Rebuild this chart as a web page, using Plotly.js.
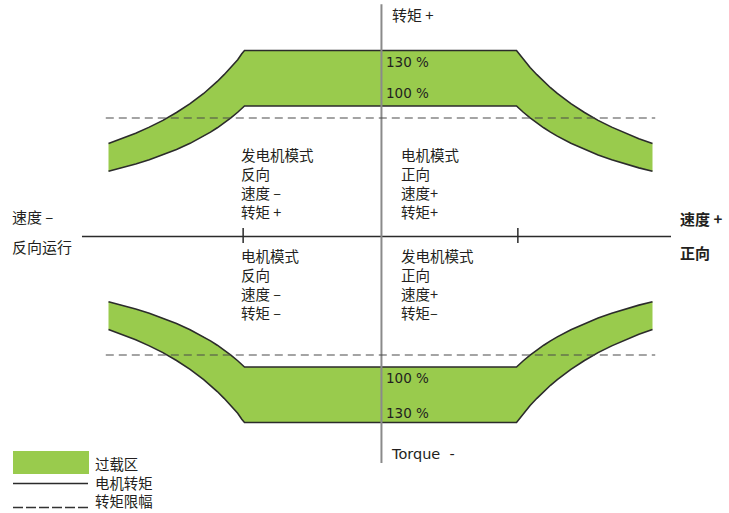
<!DOCTYPE html>
<html>
<head>
<meta charset="utf-8">
<script src="https://cdn.plot.ly/plotly-3.0.1.min.js"></script>
<style>html,body{margin:0;padding:0;background:#fff;}#chart{width:729px;height:513px;}</style>
</head>
<body>
<div id="chart"></div>
<script>
// ---- data (speed in p.u. of base speed, torque in arbitrary % units) ----
const speedMag   = [1.0, 1.02, 1.05, 1.1, 1.15, 1.2, 1.25, 1.3, 1.4, 1.5, 1.6, 1.7, 1.8, 1.9, 2.0];
const torqueOver = [142.5, 140, 135.5, 129.5, 124, 118.8, 114, 109.6, 101.8, 95, 89, 83.8, 79.2, 75, 71.3];   // outer (130 %) edge
const torqueRated= [100, 98, 95.2, 90.9, 87, 83.3, 80, 76.9, 71.4, 66.7, 62.5, 58.8, 55.6, 52.6, 50];        // inner (100 %) edge
const torqueLimit = 90.8;       // dashed torque limit
const speedLimitEnd = 2.02;     // dashed line extent
const baseSpeed = 1.01;         // tick positions
const quadLabels = {
  q2: ["发电机模式", "反向", "速度 –", "转矩 +"],
  q1: ["电机模式", "正向", "速度+", "转矩+"],
  q3: ["电机模式", "反向", "速度 –", "转矩 –"],
  q4: ["发电机模式", "正向", "速度+", "转矩–"]
};
const pctLabels = ["130 %", "100 %"];
const legendLabels = ["过载区", "电机转矩", "转矩限幅"];

// ---- build boundary curves ----
function edge(mags, tq, sgnT) {
  const xs = [], ys = [];
  for (let i = mags.length - 1; i >= 0; i--) { xs.push(-mags[i]); ys.push(sgnT * tq[i]); }
  for (let i = 0; i < mags.length; i++) { xs.push(mags[i]); ys.push(sgnT * tq[i]); }
  return {x: xs, y: ys};
}
const GREEN = '#99cb4d';
const DARK = '#2b2b2b';
const traces = [];
[1, -1].forEach(sg => {
  const outer = edge(speedMag, torqueOver, sg);
  const inner = edge(speedMag, torqueRated, sg);
  traces.push({
    x: outer.x.concat(inner.x.slice().reverse()),
    y: outer.y.concat(inner.y.slice().reverse()),
    mode: 'lines', fill: 'toself', fillcolor: GREEN,
    line: {width: 0, color: GREEN}, hoverinfo: 'skip', showlegend: false
  });
  [outer, inner].forEach(e => traces.push({
    x: e.x, y: e.y, mode: 'lines', line: {color: DARK, width: 1.6},
    hoverinfo: 'skip', showlegend: false
  }));
});

// ---- pixel helpers for layout-only positions ----
const W = 729, H = 513;
const px = v => v / W;
const py = v => 1 - v / H;

const shapes = [
  {type: 'line', xref: 'x', yref: 'y', x0: -2.195, x1: 2.136, y0: 0, y1: 0, line: {color: DARK, width: 1.5}},
  {type: 'line', xref: 'x', yref: 'y', x0: 0.007, x1: 0.007, y0: -173.6, y1: 178, line: {color: '#8a8a8a', width: 2}},
  {type: 'line', xref: 'x', yref: 'y', x0: -baseSpeed, x1: -baseSpeed, y0: -5, y1: 6.5, line: {color: DARK, width: 1.5}},
  {type: 'line', xref: 'x', yref: 'y', x0: baseSpeed, x1: baseSpeed, y0: -5, y1: 6.5, line: {color: DARK, width: 1.5}},
  {type: 'line', xref: 'x', yref: 'y', x0: -speedLimitEnd, x1: speedLimitEnd, y0: torqueLimit, y1: torqueLimit, line: {color: '#4a4a4a', width: 1.2, dash: '8px,5px'}},
  {type: 'line', xref: 'x', yref: 'y', x0: -speedLimitEnd, x1: speedLimitEnd, y0: -torqueLimit, y1: -torqueLimit, line: {color: '#4a4a4a', width: 1.2, dash: '8px,5px'}},
  {type: 'rect', xref: 'paper', yref: 'paper', x0: px(13), x1: px(89), y0: py(474), y1: py(451), fillcolor: GREEN, line: {width: 0}},
  {type: 'line', xref: 'paper', yref: 'paper', x0: px(13), x1: px(88), y0: py(483.5), y1: py(483.5), line: {color: DARK, width: 1.5}},
  {type: 'line', xref: 'paper', yref: 'paper', x0: px(13), x1: px(89), y0: py(507.5), y1: py(507.5), line: {color: '#333', width: 1.5, dash: '10px,3px'}}
];

const FONT = '"Noto Sans CJK SC", sans-serif';
const LATIN = '"DejaVu Sans", "Noto Sans CJK SC", sans-serif';
const TXT = '#231f20';
const annotations = [];
function txt(text, x, y, size, family, align) {
  annotations.push({
    text: text, xref: 'paper', yref: 'paper', x: px(x), y: py(y),
    xanchor: 'left', yanchor: 'middle', align: align || 'left', showarrow: false, borderpad: 0,
    font: {family: family || FONT, size: size, color: TXT}
  });
}
// multi-line blocks, centre y of the block
txt(quadLabels.q2.join('<br>'), 240, 182.6, 14.5);
txt(quadLabels.q1.join('<br>'), 399.5, 182.6, 14.5);
txt(quadLabels.q3.join('<br>'), 240, 284, 14.5);
txt(quadLabels.q4.join('<br>'), 399.5, 284, 14.5);
txt(pctLabels[0], 385, 62, 13.5, LATIN);
txt(pctLabels[1], 385, 93.5, 13.5, LATIN);
txt(pctLabels[1], 385, 377.5, 13.5, LATIN);
txt(pctLabels[0], 385, 412.5, 13.5, LATIN);
txt('转矩 +', 391, 14, 15);
txt('Torque  -', 390, 454, 14.5, LATIN);
txt('速度 –', 10.5, 216.5, 15);
txt('反向运行', 10.5, 246.5, 15);
txt('<b>速度 +</b>', 678.5, 218, 15);
txt('<b>正向</b>', 678.5, 252, 15);
txt(legendLabels.join('<br>'), 94, 481.7, 14.4);

const layout = {
  width: W, height: H,
  margin: {l: 0, r: 0, t: 0, b: 0, pad: 0},
  paper_bgcolor: '#fff', plot_bgcolor: '#fff',
  xaxis: {range: [-2.7978, 2.5625], visible: false, fixedrange: true},
  yaxis: {range: [-211.88, 181.23], visible: false, fixedrange: true},
  showlegend: false,
  shapes: shapes,
  annotations: annotations
};
Plotly.newPlot('chart', traces, layout, {displayModeBar: false, staticPlot: true});
</script>
</body>
</html>
